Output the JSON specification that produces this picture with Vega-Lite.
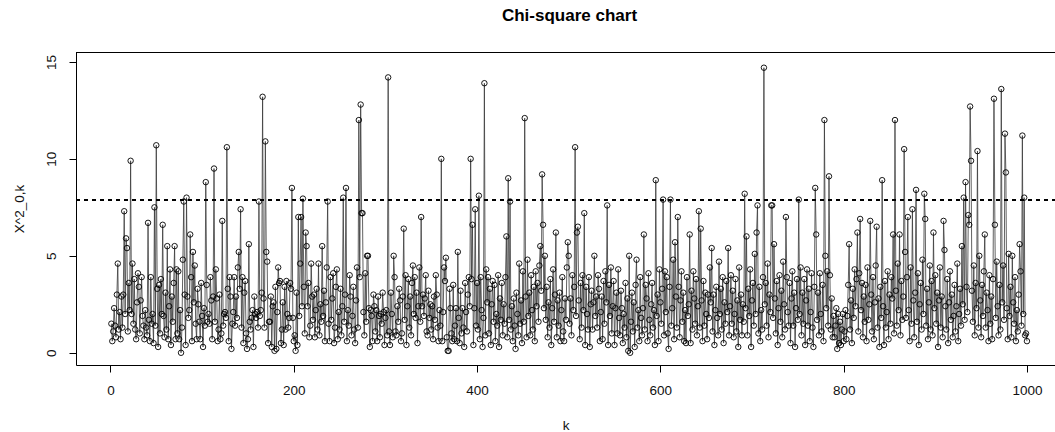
{
"$schema": "https://vega.github.io/schema/vega-lite/v6.json",
"width": 979, "height": 313,
"autosize": {"type": "none"},
"padding": {"left": 76, "top": 52, "right": 0, "bottom": 67},
"background": "white",
"config": {"view": {"stroke": null}, "font": "Liberation Sans"},
"title": {"text": "Chi-square chart", "font": "Liberation Sans", "fontSize": 17, "fontWeight": "bold", "color": "#000", "anchor": "middle", "offset": 27, "dx": 4},
"data": {"values": [
{"k":1,"v":1.5},{"k":2,"v":0.6},{"k":3,"v":1.1},{"k":4,"v":2.3},{"k":5,"v":1.4},{"k":6,"v":0.8},{"k":7,"v":3.0},{"k":8,"v":4.6},{"k":9,"v":1.2},{"k":10,"v":2.1},
{"k":11,"v":0.7},{"k":12,"v":2.9},{"k":13,"v":1.3},{"k":14,"v":3.0},{"k":15,"v":7.3},{"k":16,"v":2.0},{"k":17,"v":5.9},{"k":18,"v":5.4},{"k":19,"v":1.1},{"k":20,"v":3.6},
{"k":21,"v":2.2},{"k":22,"v":9.9},{"k":23,"v":2.0},{"k":24,"v":4.6},{"k":25,"v":1.5},{"k":26,"v":3.8},{"k":27,"v":1.2},{"k":28,"v":0.7},{"k":29,"v":2.6},{"k":30,"v":4.1},
{"k":31,"v":3.4},{"k":32,"v":1.0},{"k":33,"v":2.7},{"k":34,"v":3.9},{"k":35,"v":1.9},{"k":36,"v":1.4},{"k":37,"v":0.7},{"k":38,"v":2.2},{"k":39,"v":1.3},{"k":40,"v":0.9},
{"k":41,"v":6.7},{"k":42,"v":1.7},{"k":43,"v":0.6},{"k":44,"v":3.9},{"k":45,"v":1.5},{"k":46,"v":2.0},{"k":47,"v":0.5},{"k":48,"v":7.5},{"k":49,"v":1.4},{"k":50,"v":10.7},
{"k":51,"v":3.3},{"k":52,"v":0.3},{"k":53,"v":3.5},{"k":54,"v":1.0},{"k":55,"v":3.8},{"k":56,"v":2.0},{"k":57,"v":6.6},{"k":58,"v":1.9},{"k":59,"v":0.8},{"k":60,"v":3.1},
{"k":61,"v":1.2},{"k":62,"v":5.5},{"k":63,"v":0.7},{"k":64,"v":2.4},{"k":65,"v":4.3},{"k":66,"v":0.4},{"k":67,"v":2.9},{"k":68,"v":1.6},{"k":69,"v":3.6},{"k":70,"v":5.5},
{"k":71,"v":0.7},{"k":72,"v":4.3},{"k":73,"v":1.0},{"k":74,"v":4.2},{"k":75,"v":0.7},{"k":76,"v":2.2},{"k":77,"v":0.0},{"k":78,"v":1.3},{"k":79,"v":4.8},{"k":80,"v":7.8},
{"k":81,"v":3.0},{"k":82,"v":0.4},{"k":83,"v":8.0},{"k":84,"v":2.9},{"k":85,"v":1.8},{"k":86,"v":2.2},{"k":87,"v":6.1},{"k":88,"v":3.9},{"k":89,"v":0.6},{"k":90,"v":5.2},
{"k":91,"v":2.6},{"k":92,"v":4.5},{"k":93,"v":1.5},{"k":94,"v":0.7},{"k":95,"v":3.3},{"k":96,"v":2.5},{"k":97,"v":1.6},{"k":98,"v":0.7},{"k":99,"v":3.6},{"k":100,"v":1.9},
{"k":101,"v":0.3},{"k":102,"v":2.3},{"k":103,"v":1.4},{"k":104,"v":8.8},{"k":105,"v":3.5},{"k":106,"v":1.6},{"k":107,"v":2.0},{"k":108,"v":1.5},{"k":109,"v":3.9},{"k":110,"v":2.7},
{"k":111,"v":0.7},{"k":112,"v":2.9},{"k":113,"v":9.5},{"k":114,"v":1.6},{"k":115,"v":4.3},{"k":116,"v":2.8},{"k":117,"v":0.6},{"k":118,"v":1.2},{"k":119,"v":3.0},{"k":120,"v":0.7},
{"k":121,"v":1.0},{"k":122,"v":6.8},{"k":123,"v":1.4},{"k":124,"v":2.0},{"k":125,"v":2.1},{"k":126,"v":1.8},{"k":127,"v":10.6},{"k":128,"v":3.3},{"k":129,"v":0.6},{"k":130,"v":3.9},
{"k":131,"v":2.9},{"k":132,"v":0.2},{"k":133,"v":1.5},{"k":134,"v":2.1},{"k":135,"v":3.9},{"k":136,"v":1.4},{"k":137,"v":2.9},{"k":138,"v":1.8},{"k":139,"v":4.4},{"k":140,"v":5.2},
{"k":141,"v":3.3},{"k":142,"v":7.4},{"k":143,"v":1.3},{"k":144,"v":3.9},{"k":145,"v":0.5},{"k":146,"v":3.1},{"k":147,"v":3.7},{"k":148,"v":1.0},{"k":149,"v":0.2},{"k":150,"v":0.7},
{"k":151,"v":5.6},{"k":152,"v":1.6},{"k":153,"v":1.2},{"k":154,"v":1.8},{"k":155,"v":2.2},{"k":156,"v":0.3},{"k":157,"v":2.9},{"k":158,"v":2.0},{"k":159,"v":1.8},{"k":160,"v":2.1},
{"k":161,"v":1.3},{"k":162,"v":7.8},{"k":163,"v":1.9},{"k":164,"v":2.2},{"k":165,"v":3.1},{"k":166,"v":13.2},{"k":167,"v":2.8},{"k":168,"v":1.3},{"k":169,"v":10.9},{"k":170,"v":5.2},
{"k":171,"v":4.7},{"k":172,"v":0.5},{"k":173,"v":1.6},{"k":174,"v":1.6},{"k":175,"v":2.9},{"k":176,"v":0.3},{"k":177,"v":2.4},{"k":178,"v":2.6},{"k":179,"v":0.1},{"k":180,"v":3.4},
{"k":181,"v":0.2},{"k":182,"v":2.1},{"k":183,"v":4.4},{"k":184,"v":3.6},{"k":185,"v":3.7},{"k":186,"v":0.5},{"k":187,"v":1.2},{"k":188,"v":2.6},{"k":189,"v":0.4},{"k":190,"v":3.4},
{"k":191,"v":1.2},{"k":192,"v":3.7},{"k":193,"v":2.0},{"k":194,"v":1.3},{"k":195,"v":1.8},{"k":196,"v":3.6},{"k":197,"v":3.3},{"k":198,"v":8.5},{"k":199,"v":1.8},{"k":200,"v":0.6},
{"k":201,"v":0.9},{"k":202,"v":0.1},{"k":203,"v":3.1},{"k":204,"v":0.4},{"k":205,"v":7.0},{"k":206,"v":1.9},{"k":207,"v":4.6},{"k":208,"v":7.0},{"k":209,"v":2.4},{"k":210,"v":7.95},
{"k":211,"v":3.4},{"k":212,"v":1.0},{"k":213,"v":6.2},{"k":214,"v":5.5},{"k":215,"v":2.4},{"k":216,"v":3.6},{"k":217,"v":0.8},{"k":218,"v":1.4},{"k":219,"v":4.6},{"k":220,"v":2.9},
{"k":221,"v":1.7},{"k":222,"v":3.0},{"k":223,"v":0.8},{"k":224,"v":2.2},{"k":225,"v":3.3},{"k":226,"v":1.2},{"k":227,"v":4.6},{"k":228,"v":0.9},{"k":229,"v":2.5},{"k":230,"v":1.6},
{"k":231,"v":5.5},{"k":232,"v":1.9},{"k":233,"v":3.2},{"k":234,"v":0.6},{"k":235,"v":2.6},{"k":236,"v":4.4},{"k":237,"v":7.8},{"k":238,"v":1.5},{"k":239,"v":0.6},{"k":240,"v":3.9},
{"k":241,"v":1.7},{"k":242,"v":2.8},{"k":243,"v":4.1},{"k":244,"v":0.5},{"k":245,"v":1.3},{"k":246,"v":3.4},{"k":247,"v":4.3},{"k":248,"v":0.7},{"k":249,"v":2.1},{"k":250,"v":1.2},
{"k":251,"v":3.3},{"k":252,"v":0.9},{"k":253,"v":2.4},{"k":254,"v":8.0},{"k":255,"v":1.6},{"k":256,"v":3.0},{"k":257,"v":8.5},{"k":258,"v":0.6},{"k":259,"v":2.2},{"k":260,"v":1.4},
{"k":261,"v":4.0},{"k":262,"v":2.9},{"k":263,"v":0.9},{"k":264,"v":1.9},{"k":265,"v":3.4},{"k":266,"v":1.2},{"k":267,"v":0.5},{"k":268,"v":2.7},{"k":269,"v":4.4},{"k":270,"v":1.3},
{"k":271,"v":12.0},{"k":272,"v":3.9},{"k":273,"v":12.8},{"k":274,"v":7.2},{"k":275,"v":7.2},{"k":276,"v":2.1},{"k":277,"v":0.9},{"k":278,"v":4.1},{"k":279,"v":1.6},{"k":280,"v":5.0},
{"k":281,"v":5.0},{"k":282,"v":2.3},{"k":283,"v":0.3},{"k":284,"v":2.2},{"k":285,"v":1.9},{"k":286,"v":0.6},{"k":287,"v":3.0},{"k":288,"v":2.4},{"k":289,"v":1.1},{"k":290,"v":2.2},
{"k":291,"v":0.6},{"k":292,"v":2.9},{"k":293,"v":1.9},{"k":294,"v":0.8},{"k":295,"v":2.0},{"k":296,"v":1.5},{"k":297,"v":3.1},{"k":298,"v":2.1},{"k":299,"v":0.4},{"k":300,"v":1.8},
{"k":301,"v":2.2},{"k":302,"v":0.9},{"k":303,"v":14.2},{"k":304,"v":1.1},{"k":305,"v":0.4},{"k":306,"v":3.1},{"k":307,"v":2.0},{"k":308,"v":0.8},{"k":309,"v":5.0},{"k":310,"v":3.9},
{"k":311,"v":1.1},{"k":312,"v":0.9},{"k":313,"v":2.4},{"k":314,"v":1.6},{"k":315,"v":3.3},{"k":316,"v":2.7},{"k":317,"v":0.6},{"k":318,"v":1.0},{"k":319,"v":2.9},{"k":320,"v":6.4},
{"k":321,"v":1.7},{"k":322,"v":4.0},{"k":323,"v":0.4},{"k":324,"v":2.4},{"k":325,"v":3.8},{"k":326,"v":1.3},{"k":327,"v":2.9},{"k":328,"v":0.9},{"k":329,"v":3.6},{"k":330,"v":4.5},
{"k":331,"v":2.0},{"k":332,"v":3.9},{"k":333,"v":1.8},{"k":334,"v":3.1},{"k":335,"v":0.5},{"k":336,"v":2.4},{"k":337,"v":4.4},{"k":338,"v":1.6},{"k":339,"v":7.0},{"k":340,"v":2.4},
{"k":341,"v":3.0},{"k":342,"v":1.9},{"k":343,"v":2.8},{"k":344,"v":4.0},{"k":345,"v":1.1},{"k":346,"v":0.9},{"k":347,"v":3.2},{"k":348,"v":1.8},{"k":349,"v":2.5},{"k":350,"v":1.2},
{"k":351,"v":2.4},{"k":352,"v":0.7},{"k":353,"v":2.9},{"k":354,"v":1.7},{"k":355,"v":4.0},{"k":356,"v":3.0},{"k":357,"v":1.3},{"k":358,"v":0.6},{"k":359,"v":2.2},{"k":360,"v":1.4},
{"k":361,"v":10.0},{"k":362,"v":0.6},{"k":363,"v":2.1},{"k":364,"v":4.4},{"k":365,"v":3.7},{"k":366,"v":4.9},{"k":367,"v":0.8},{"k":368,"v":0.1},{"k":369,"v":0.1},{"k":370,"v":3.3},
{"k":371,"v":2.3},{"k":372,"v":1.0},{"k":373,"v":0.6},{"k":374,"v":3.5},{"k":375,"v":0.7},{"k":376,"v":1.4},{"k":377,"v":2.3},{"k":378,"v":0.6},{"k":379,"v":5.2},{"k":380,"v":1.8},
{"k":381,"v":0.5},{"k":382,"v":3.2},{"k":383,"v":1.0},{"k":384,"v":2.3},{"k":385,"v":1.3},{"k":386,"v":0.3},{"k":387,"v":3.6},{"k":388,"v":2.1},{"k":389,"v":1.1},{"k":390,"v":3.0},
{"k":391,"v":3.9},{"k":392,"v":2.4},{"k":393,"v":10.0},{"k":394,"v":3.8},{"k":395,"v":6.6},{"k":396,"v":0.4},{"k":397,"v":2.3},{"k":398,"v":7.4},{"k":399,"v":1.4},{"k":400,"v":3.6},
{"k":401,"v":1.2},{"k":402,"v":8.1},{"k":403,"v":0.7},{"k":404,"v":3.9},{"k":405,"v":2.2},{"k":406,"v":0.3},{"k":407,"v":1.8},{"k":408,"v":13.9},{"k":409,"v":0.9},{"k":410,"v":4.3},
{"k":411,"v":2.6},{"k":412,"v":3.9},{"k":413,"v":1.0},{"k":414,"v":3.3},{"k":415,"v":0.4},{"k":416,"v":2.5},{"k":417,"v":3.7},{"k":418,"v":1.6},{"k":419,"v":3.5},{"k":420,"v":0.6},
{"k":421,"v":2.0},{"k":422,"v":1.4},{"k":423,"v":4.0},{"k":424,"v":0.3},{"k":425,"v":2.8},{"k":426,"v":1.7},{"k":427,"v":3.6},{"k":428,"v":0.9},{"k":429,"v":2.5},{"k":430,"v":1.5},
{"k":431,"v":3.9},{"k":432,"v":6.0},{"k":433,"v":0.8},{"k":434,"v":9.0},{"k":435,"v":1.7},{"k":436,"v":7.8},{"k":437,"v":1.2},{"k":438,"v":2.4},{"k":439,"v":0.6},{"k":440,"v":2.8},
{"k":441,"v":1.4},{"k":442,"v":0.2},{"k":443,"v":3.1},{"k":444,"v":2.0},{"k":445,"v":0.9},{"k":446,"v":4.6},{"k":447,"v":1.5},{"k":448,"v":2.7},{"k":449,"v":0.5},{"k":450,"v":4.2},
{"k":451,"v":1.6},{"k":452,"v":12.1},{"k":453,"v":2.9},{"k":454,"v":0.8},{"k":455,"v":4.8},{"k":456,"v":1.9},{"k":457,"v":3.1},{"k":458,"v":0.9},{"k":459,"v":4.0},{"k":460,"v":2.2},
{"k":461,"v":1.2},{"k":462,"v":3.4},{"k":463,"v":0.6},{"k":464,"v":4.2},{"k":465,"v":2.4},{"k":466,"v":3.6},{"k":467,"v":1.6},{"k":468,"v":4.5},{"k":469,"v":5.5},{"k":470,"v":3.2},
{"k":471,"v":9.2},{"k":472,"v":6.6},{"k":473,"v":2.3},{"k":474,"v":5.0},{"k":475,"v":1.7},{"k":476,"v":3.4},{"k":477,"v":0.8},{"k":478,"v":2.6},{"k":479,"v":1.3},{"k":480,"v":3.8},
{"k":481,"v":0.4},{"k":482,"v":2.3},{"k":483,"v":4.3},{"k":484,"v":1.6},{"k":485,"v":3.0},{"k":486,"v":6.2},{"k":487,"v":0.8},{"k":488,"v":2.7},{"k":489,"v":1.4},{"k":490,"v":3.1},
{"k":491,"v":0.6},{"k":492,"v":2.2},{"k":493,"v":3.9},{"k":494,"v":1.1},{"k":495,"v":0.6},{"k":496,"v":2.8},{"k":497,"v":1.7},{"k":498,"v":4.4},{"k":499,"v":5.7},{"k":500,"v":5.0},
{"k":501,"v":1.5},{"k":502,"v":2.8},{"k":503,"v":0.9},{"k":504,"v":4.0},{"k":505,"v":2.2},{"k":506,"v":3.4},{"k":507,"v":10.6},{"k":508,"v":1.9},{"k":509,"v":6.2},{"k":510,"v":6.5},
{"k":511,"v":2.7},{"k":512,"v":0.7},{"k":513,"v":3.6},{"k":514,"v":1.3},{"k":515,"v":4.0},{"k":516,"v":2.2},{"k":517,"v":7.2},{"k":518,"v":0.4},{"k":519,"v":3.4},{"k":520,"v":2.0},
{"k":521,"v":1.2},{"k":522,"v":3.9},{"k":523,"v":0.3},{"k":524,"v":2.5},{"k":525,"v":3.2},{"k":526,"v":1.2},{"k":527,"v":2.6},{"k":528,"v":5.0},{"k":529,"v":1.9},{"k":530,"v":2.9},
{"k":531,"v":1.3},{"k":532,"v":4.0},{"k":533,"v":3.3},{"k":534,"v":0.6},{"k":535,"v":2.1},{"k":536,"v":2.9},{"k":537,"v":0.7},{"k":538,"v":3.7},{"k":539,"v":1.5},{"k":540,"v":4.2},
{"k":541,"v":2.6},{"k":542,"v":7.6},{"k":543,"v":0.4},{"k":544,"v":3.5},{"k":545,"v":1.9},{"k":546,"v":4.4},{"k":547,"v":1.0},{"k":548,"v":2.4},{"k":549,"v":3.7},{"k":550,"v":0.4},
{"k":551,"v":2.3},{"k":552,"v":3.1},{"k":553,"v":1.0},{"k":554,"v":4.3},{"k":555,"v":1.8},{"k":556,"v":0.9},{"k":557,"v":3.2},{"k":558,"v":2.3},{"k":559,"v":0.5},{"k":560,"v":2.0},
{"k":561,"v":1.3},{"k":562,"v":3.6},{"k":563,"v":0.8},{"k":564,"v":2.8},{"k":565,"v":0.1},{"k":566,"v":5.0},{"k":567,"v":0.0},{"k":568,"v":1.6},{"k":569,"v":3.1},{"k":570,"v":1.1},
{"k":571,"v":2.6},{"k":572,"v":0.3},{"k":573,"v":3.5},{"k":574,"v":4.8},{"k":575,"v":1.3},{"k":576,"v":2.2},{"k":577,"v":0.6},{"k":578,"v":3.9},{"k":579,"v":1.8},{"k":580,"v":0.9},
{"k":581,"v":2.3},{"k":582,"v":6.1},{"k":583,"v":1.2},{"k":584,"v":3.5},{"k":585,"v":2.8},{"k":586,"v":0.6},{"k":587,"v":4.1},{"k":588,"v":1.7},{"k":589,"v":0.9},{"k":590,"v":2.5},
{"k":591,"v":3.6},{"k":592,"v":1.3},{"k":593,"v":2.2},{"k":594,"v":0.4},{"k":595,"v":8.9},{"k":596,"v":1.9},{"k":597,"v":3.0},{"k":598,"v":0.6},{"k":599,"v":4.3},{"k":600,"v":2.6},
{"k":601,"v":1.5},{"k":602,"v":3.3},{"k":603,"v":7.9},{"k":604,"v":0.9},{"k":605,"v":4.2},{"k":606,"v":2.1},{"k":607,"v":3.9},{"k":608,"v":1.0},{"k":609,"v":0.2},{"k":610,"v":3.4},
{"k":611,"v":7.9},{"k":612,"v":1.4},{"k":613,"v":2.3},{"k":614,"v":4.8},{"k":615,"v":0.7},{"k":616,"v":5.7},{"k":617,"v":2.9},{"k":618,"v":1.3},{"k":619,"v":7.0},{"k":620,"v":3.4},
{"k":621,"v":0.8},{"k":622,"v":2.7},{"k":623,"v":4.2},{"k":624,"v":1.6},{"k":625,"v":3.1},{"k":626,"v":0.6},{"k":627,"v":2.2},{"k":628,"v":0.5},{"k":629,"v":3.9},{"k":630,"v":1.9},
{"k":631,"v":2.5},{"k":632,"v":6.1},{"k":633,"v":0.5},{"k":634,"v":3.2},{"k":635,"v":1.2},{"k":636,"v":4.2},{"k":637,"v":2.8},{"k":638,"v":1.5},{"k":639,"v":3.8},{"k":640,"v":0.9},
{"k":641,"v":2.4},{"k":642,"v":7.3},{"k":643,"v":1.3},{"k":644,"v":6.4},{"k":645,"v":2.7},{"k":646,"v":0.6},{"k":647,"v":3.7},{"k":648,"v":1.4},{"k":649,"v":3.1},{"k":650,"v":2.0},
{"k":651,"v":0.7},{"k":652,"v":3.0},{"k":653,"v":1.8},{"k":654,"v":4.4},{"k":655,"v":2.6},{"k":656,"v":5.4},{"k":657,"v":1.1},{"k":658,"v":3.0},{"k":659,"v":0.4},{"k":660,"v":2.2},
{"k":661,"v":3.4},{"k":662,"v":1.8},{"k":663,"v":0.9},{"k":664,"v":4.7},{"k":665,"v":2.0},{"k":666,"v":3.3},{"k":667,"v":1.2},{"k":668,"v":3.9},{"k":669,"v":0.5},{"k":670,"v":2.6},
{"k":671,"v":1.5},{"k":672,"v":3.7},{"k":673,"v":2.1},{"k":674,"v":5.4},{"k":675,"v":0.9},{"k":676,"v":2.4},{"k":677,"v":4.0},{"k":678,"v":1.5},{"k":679,"v":3.2},{"k":680,"v":0.8},
{"k":681,"v":2.0},{"k":682,"v":3.8},{"k":683,"v":1.1},{"k":684,"v":2.7},{"k":685,"v":0.3},{"k":686,"v":4.4},{"k":687,"v":1.7},{"k":688,"v":3.0},{"k":689,"v":0.9},{"k":690,"v":2.5},
{"k":691,"v":1.6},{"k":692,"v":8.2},{"k":693,"v":2.3},{"k":694,"v":6.0},{"k":695,"v":0.9},{"k":696,"v":3.3},{"k":697,"v":1.9},{"k":698,"v":4.3},{"k":699,"v":0.3},{"k":700,"v":2.7},
{"k":701,"v":3.6},{"k":702,"v":1.4},{"k":703,"v":5.1},{"k":704,"v":2.0},{"k":705,"v":6.2},{"k":706,"v":7.6},{"k":707,"v":1.0},{"k":708,"v":3.4},{"k":709,"v":0.6},{"k":710,"v":2.2},
{"k":711,"v":1.2},{"k":712,"v":3.9},{"k":713,"v":14.7},{"k":714,"v":2.5},{"k":715,"v":3.6},{"k":716,"v":1.4},{"k":717,"v":4.6},{"k":718,"v":0.8},{"k":719,"v":3.0},{"k":720,"v":2.1},
{"k":721,"v":7.6},{"k":722,"v":7.6},{"k":723,"v":1.8},{"k":724,"v":5.6},{"k":725,"v":2.8},{"k":726,"v":1.0},{"k":727,"v":3.7},{"k":728,"v":0.4},{"k":729,"v":2.3},{"k":730,"v":4.0},
{"k":731,"v":1.6},{"k":732,"v":3.2},{"k":733,"v":0.8},{"k":734,"v":4.7},{"k":735,"v":2.5},{"k":736,"v":1.2},{"k":737,"v":7.0},{"k":738,"v":3.9},{"k":739,"v":2.1},{"k":740,"v":1.4},
{"k":741,"v":3.6},{"k":742,"v":0.5},{"k":743,"v":2.8},{"k":744,"v":4.2},{"k":745,"v":1.4},{"k":746,"v":3.1},{"k":747,"v":0.3},{"k":748,"v":2.3},{"k":749,"v":3.8},{"k":750,"v":1.7},
{"k":751,"v":7.9},{"k":752,"v":2.0},{"k":753,"v":4.4},{"k":754,"v":0.9},{"k":755,"v":3.1},{"k":756,"v":1.5},{"k":757,"v":3.8},{"k":758,"v":0.4},{"k":759,"v":2.7},{"k":760,"v":4.3},
{"k":761,"v":1.4},{"k":762,"v":3.3},{"k":763,"v":0.6},{"k":764,"v":2.1},{"k":765,"v":4.1},{"k":766,"v":1.3},{"k":767,"v":0.3},{"k":768,"v":3.4},{"k":769,"v":8.5},{"k":770,"v":6.1},
{"k":771,"v":1.7},{"k":772,"v":3.1},{"k":773,"v":0.9},{"k":774,"v":4.1},{"k":775,"v":2.0},{"k":776,"v":1.1},{"k":777,"v":3.5},{"k":778,"v":0.6},{"k":779,"v":12.0},{"k":780,"v":5.0},
{"k":781,"v":2.3},{"k":782,"v":4.2},{"k":783,"v":1.4},{"k":784,"v":9.1},{"k":785,"v":4.0},{"k":786,"v":1.2},{"k":787,"v":2.8},{"k":788,"v":0.8},{"k":789,"v":1.9},{"k":790,"v":0.8},
{"k":791,"v":1.4},{"k":792,"v":2.3},{"k":793,"v":0.2},{"k":794,"v":2.0},{"k":795,"v":0.5},{"k":796,"v":1.6},{"k":797,"v":0.4},{"k":798,"v":1.2},{"k":799,"v":2.0},{"k":800,"v":0.6},
{"k":801,"v":1.1},{"k":802,"v":2.2},{"k":803,"v":0.7},{"k":804,"v":1.9},{"k":805,"v":3.5},{"k":806,"v":5.6},{"k":807,"v":1.2},{"k":808,"v":2.7},{"k":809,"v":0.5},{"k":810,"v":3.3},
{"k":811,"v":1.8},{"k":812,"v":4.3},{"k":813,"v":2.4},{"k":814,"v":3.8},{"k":815,"v":6.2},{"k":816,"v":1.1},{"k":817,"v":4.1},{"k":818,"v":6.9},{"k":819,"v":2.2},{"k":820,"v":3.6},
{"k":821,"v":0.8},{"k":822,"v":2.9},{"k":823,"v":1.6},{"k":824,"v":3.5},{"k":825,"v":0.6},{"k":826,"v":4.4},{"k":827,"v":1.7},{"k":828,"v":2.5},{"k":829,"v":6.8},{"k":830,"v":3.0},
{"k":831,"v":1.1},{"k":832,"v":3.9},{"k":833,"v":0.7},{"k":834,"v":2.6},{"k":835,"v":4.5},{"k":836,"v":6.5},{"k":837,"v":1.3},{"k":838,"v":2.8},{"k":839,"v":0.3},{"k":840,"v":3.4},
{"k":841,"v":1.8},{"k":842,"v":8.9},{"k":843,"v":2.4},{"k":844,"v":0.4},{"k":845,"v":3.7},{"k":846,"v":1.3},{"k":847,"v":2.1},{"k":848,"v":4.2},{"k":849,"v":0.7},{"k":850,"v":3.0},
{"k":851,"v":1.5},{"k":852,"v":3.9},{"k":853,"v":2.8},{"k":854,"v":6.1},{"k":855,"v":1.0},{"k":856,"v":12.0},{"k":857,"v":3.2},{"k":858,"v":1.4},{"k":859,"v":4.6},{"k":860,"v":2.2},
{"k":861,"v":6.1},{"k":862,"v":0.9},{"k":863,"v":3.7},{"k":864,"v":1.7},{"k":865,"v":2.9},{"k":866,"v":10.5},{"k":867,"v":5.2},{"k":868,"v":1.8},{"k":869,"v":3.9},{"k":870,"v":7.0},
{"k":871,"v":2.2},{"k":872,"v":0.6},{"k":873,"v":4.4},{"k":874,"v":1.5},{"k":875,"v":7.4},{"k":876,"v":2.7},{"k":877,"v":0.8},{"k":878,"v":3.1},{"k":879,"v":8.4},{"k":880,"v":1.6},
{"k":881,"v":4.1},{"k":882,"v":0.4},{"k":883,"v":2.5},{"k":884,"v":3.6},{"k":885,"v":1.2},{"k":886,"v":4.8},{"k":887,"v":2.0},{"k":888,"v":8.2},{"k":889,"v":6.9},{"k":890,"v":1.4},
{"k":891,"v":3.3},{"k":892,"v":0.7},{"k":893,"v":2.6},{"k":894,"v":4.5},{"k":895,"v":1.2},{"k":896,"v":3.7},{"k":897,"v":0.9},{"k":898,"v":6.2},{"k":899,"v":2.3},{"k":900,"v":4.0},
{"k":901,"v":1.5},{"k":902,"v":3.1},{"k":903,"v":0.3},{"k":904,"v":2.7},{"k":905,"v":4.4},{"k":906,"v":1.3},{"k":907,"v":2.9},{"k":908,"v":0.8},{"k":909,"v":6.8},{"k":910,"v":5.3},
{"k":911,"v":2.4},{"k":912,"v":1.2},{"k":913,"v":3.8},{"k":914,"v":0.5},{"k":915,"v":2.6},{"k":916,"v":4.2},{"k":917,"v":1.7},{"k":918,"v":3.0},{"k":919,"v":0.8},{"k":920,"v":1.9},
{"k":921,"v":3.5},{"k":922,"v":1.1},{"k":923,"v":2.4},{"k":924,"v":4.6},{"k":925,"v":0.6},{"k":926,"v":2.0},{"k":927,"v":3.3},{"k":928,"v":1.4},{"k":929,"v":5.5},{"k":930,"v":2.5},
{"k":931,"v":8.0},{"k":932,"v":1.7},{"k":933,"v":8.8},{"k":934,"v":3.4},{"k":935,"v":2.1},{"k":936,"v":7.1},{"k":937,"v":6.6},{"k":938,"v":12.7},{"k":939,"v":9.9},{"k":940,"v":3.2},
{"k":941,"v":1.6},{"k":942,"v":4.5},{"k":943,"v":0.9},{"k":944,"v":3.6},{"k":945,"v":2.3},{"k":946,"v":10.4},{"k":947,"v":1.3},{"k":948,"v":5.0},{"k":949,"v":2.7},{"k":950,"v":0.8},
{"k":951,"v":3.5},{"k":952,"v":1.9},{"k":953,"v":4.2},{"k":954,"v":6.1},{"k":955,"v":1.3},{"k":956,"v":3.1},{"k":957,"v":2.2},{"k":958,"v":0.6},{"k":959,"v":4.0},{"k":960,"v":1.5},
{"k":961,"v":2.9},{"k":962,"v":0.7},{"k":963,"v":3.8},{"k":964,"v":13.1},{"k":965,"v":6.6},{"k":966,"v":1.8},{"k":967,"v":4.7},{"k":968,"v":2.4},{"k":969,"v":0.9},{"k":970,"v":3.5},
{"k":971,"v":1.2},{"k":972,"v":13.6},{"k":973,"v":2.6},{"k":974,"v":4.5},{"k":975,"v":1.7},{"k":976,"v":11.3},{"k":977,"v":9.3},{"k":978,"v":2.3},{"k":979,"v":0.7},{"k":980,"v":5.1},
{"k":981,"v":1.9},{"k":982,"v":3.4},{"k":983,"v":0.8},{"k":984,"v":5.0},{"k":985,"v":2.6},{"k":986,"v":1.5},{"k":987,"v":3.9},{"k":988,"v":0.6},{"k":989,"v":2.2},{"k":990,"v":1.1},
{"k":991,"v":3.0},{"k":992,"v":5.6},{"k":993,"v":4.2},{"k":994,"v":1.4},{"k":995,"v":11.2},{"k":996,"v":2.0},{"k":997,"v":8.0},{"k":998,"v":0.9},{"k":999,"v":1.0},{"k":1000,"v":0.6}
]},
"encoding": {
  "x": {"field": "k", "type": "quantitative",
        "scale": {"domain": [-37.6, 1030.6], "nice": false, "zero": false},
        "axis": {"values": [0, 200, 400, 600, 800, 1000], "format": "d", "title": "k", "grid": false,
                 "domainColor": "#000", "domainWidth": 1, "tickColor": "#000", "tickSize": 7,
                 "labelFont": "Liberation Sans", "labelFontSize": 13.5, "labelColor": "#111", "labelPadding": 11,
                 "titleFont": "Liberation Sans", "titleFontSize": 13.5, "titleFontWeight": "normal", "titleColor": "#111", "titlePadding": 22}},
  "y": {"field": "v", "type": "quantitative",
        "scale": {"domain": [-0.63, 15.51], "nice": false, "zero": false},
        "axis": {"values": [0, 5, 10, 15], "title": "X^2_0,k", "grid": false,
                 "domainColor": "#000", "domainWidth": 1, "tickColor": "#000", "tickSize": 7,
                 "labelAngle": -90, "labelAlign": "center", "labelBaseline": "bottom",
                 "labelFont": "Liberation Sans", "labelFontSize": 13.5, "labelColor": "#111", "labelPadding": 11,
                 "titleFont": "Liberation Sans", "titleFontSize": 13.5, "titleFontWeight": "normal", "titleColor": "#111", "titlePadding": 18}}
},
"layer": [
  {"mark": {"type": "line", "color": "#3a3a3a", "strokeWidth": 0.8}},
  {"mark": {"type": "point", "shape": "circle", "filled": false, "color": "#000", "size": 30, "strokeWidth": 0.9, "opacity": 1}},
  {"mark": {"type": "rule", "color": "#000", "strokeWidth": 0.8, "strokeDash": [4, 4]}, "encoding": {"x": {"value": 0}, "x2": {"value": 979}, "y": {"datum": 7.853}}},
  {"mark": {"type": "rule", "color": "#000", "strokeWidth": 1}, "encoding": {"x": {"value": 0}, "x2": {"value": 979}, "y": {"datum": 15.484}}}
]
}
